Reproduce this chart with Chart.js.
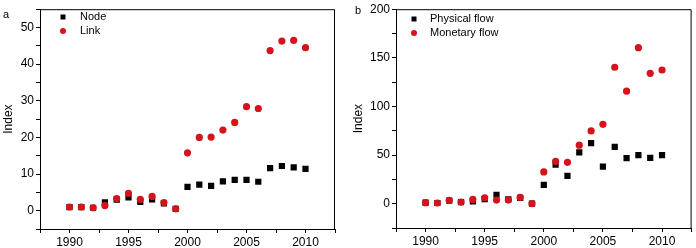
<!DOCTYPE html>
<html>
<head>
<meta charset="utf-8">
<script src="https://cdn.jsdelivr.net/npm/chart.js@4/dist/chart.umd.min.js"></script>
<style>
    html, body { margin: 0; padding: 0; background: #fff; }
    #wrap { display: flex; width: 696px; height: 248px; }
    canvas { display: block; }
</style>
</head>
<body>
<div id="wrap">
    <canvas id="chart-a" width="348" height="248"></canvas>
    <canvas id="chart-b" width="348" height="248"></canvas>
</div>
<script>
// Years shared by both panels
const years = [1990, 1991, 1992, 1993, 1994, 1995, 1996, 1997, 1998, 1999, 2000,
               2001, 2002, 2003, 2004, 2005, 2006, 2007, 2008, 2009, 2010];

// Panel a
const nodeIndex = [1.0, 1.0, 0.8, 2.3, 3.0, 3.6, 2.4, 3.1, 2.0, 0.5, 6.5,
                   7.1, 6.8, 8.0, 8.4, 8.4, 7.9, 11.6, 12.2, 11.8, 11.4];
const linkIndex = [1.0, 1.0, 0.8, 1.4, 3.3, 4.7, 3.1, 3.9, 2.2, 0.5, 15.8,
                   20.0, 20.1, 22.0, 24.1, 28.4, 27.9, 43.7, 46.3, 46.5, 44.5];

// Panel b
const physicalFlow = [1.0, 0.7, 3.2, 1.6, 2.4, 4.8, 9.2, 4.4, 6.0, 0.0, 19.4,
                      40.1, 28.6, 52.7, 62.2, 38.1, 58.5, 46.9, 50.0, 47.0, 50.0];
const monetaryFlow = [1.0, 0.7, 3.4, 1.7, 4.4, 6.1, 3.7, 3.7, 6.4, 0.0, 32.7,
                      43.5, 42.5, 60.2, 74.8, 81.6, 140.3, 115.7, 160.4, 134.1, 137.5];

const FONT = '"Liberation Sans", Arial, sans-serif';
const RED = '#d5131d';

function toPoints(values) {
    return years.map((y, i) => ({ x: y, y: values[i] }));
}

// frame, panel letter and in-plot legend
const decorPlugin = {
    id: 'decor',
    afterDraw(chart, args, opts) {
        const ctx = chart.ctx;
        const a = chart.chartArea;
        ctx.save();
        ctx.strokeStyle = '#000';
        ctx.lineWidth = 1;
        ctx.beginPath();
        ctx.moveTo(a.left, a.top + 0.5);
        ctx.lineTo(a.right - 0.5, a.top + 0.5);
        ctx.lineTo(a.right - 0.5, a.bottom);
        ctx.stroke();

        ctx.fillStyle = '#000';
        ctx.font = '11px ' + FONT;
        ctx.textBaseline = 'middle';
        ctx.textAlign = 'left';
        ctx.fillText(opts.letter, opts.letterX, opts.letterY);

        chart.data.datasets.forEach((ds, i) => {
            const y = opts.legendY + i * opts.legendGap;
            ctx.fillStyle = ds.backgroundColor;
            if (ds.pointStyle === 'rect') {
                ctx.fillRect(opts.legendX - 2.5, y - 2.5, 5, 5);
            } else {
                ctx.beginPath();
                ctx.arc(opts.legendX, y, 3, 0, Math.PI * 2);
                ctx.fill();
            }
            ctx.fillStyle = '#000';
            ctx.fillText(ds.label, opts.textX, y);
        });
        ctx.restore();
    }
};

function makeChart(id, cfg) {
    const ctx = document.getElementById(id).getContext('2d');
    return new Chart(ctx, {
        type: 'scatter',
        data: {
            datasets: [
                {
                    label: cfg.labels[0],
                    data: toPoints(cfg.black),
                    pointStyle: 'rect',
                    pointRadius: 4.4,
                    pointHoverRadius: 4.4,
                    backgroundColor: '#000',
                    borderColor: '#000',
                    borderWidth: 0,
                    order: 1
                },
                {
                    label: cfg.labels[1],
                    data: toPoints(cfg.red),
                    pointStyle: 'circle',
                    pointRadius: 3.6,
                    pointHoverRadius: 3.6,
                    backgroundColor: RED,
                    borderColor: RED,
                    borderWidth: 0,
                    order: 0
                }
            ]
        },
        options: {
            responsive: false,
            animation: false,
            layout: { padding: cfg.padding },
            plugins: {
                legend: { display: false },
                tooltip: { enabled: false },
                decor: cfg.decor
            },
            scales: {
                x: {
                    type: 'linear',
                    min: 1987.5,
                    max: 2012.5,
                    afterFit: s => { s.height = cfg.xHeight; },
                    border: { color: '#000', width: 1 },
                    grid: { drawOnChartArea: false, drawTicks: true, tickLength: 4, tickColor: '#000' },
                    ticks: {
                        stepSize: 2.5,
                        autoSkip: false,
                        maxRotation: 0,
                        padding: 2,
                        color: '#000',
                        font: { family: FONT, size: 12 },
                        callback: v => (v % 5 === 0 ? String(v) : '')
                    }
                },
                y: {
                    min: cfg.yMin,
                    max: cfg.yMax,
                    afterFit: s => { s.width = cfg.yWidth; },
                    border: { color: '#000', width: 1 },
                    grid: { drawOnChartArea: false, drawTicks: true, tickLength: 4, tickColor: '#000' },
                    title: {
                        display: true,
                        text: 'Index',
                        color: '#000',
                        padding: { top: cfg.titlePad, bottom: 0 },
                        font: { family: FONT, size: 12 }
                    },
                    ticks: {
                        stepSize: cfg.yStep,
                        autoSkip: false,
                        padding: 2,
                        color: '#000',
                        font: { family: FONT, size: 12 },
                        callback: v => (v % cfg.yLabelEvery === 0 ? String(v) : '')
                    }
                }
            }
        },
        plugins: [decorPlugin]
    });
}

makeChart('chart-a', {
    labels: ['Node', 'Link'],
    black: nodeIndex,
    red: linkIndex,
    yMin: -5, yMax: 55, yStep: 5, yLabelEvery: 10,
    yWidth: 40, xHeight: 19, titlePad: 1,
    padding: { top: 7, right: 13, left: 0, bottom: 0 },
    decor: { letter: 'a', letterX: 3, letterY: 15, legendX: 63, legendY: 17, legendGap: 14, textX: 80 }
});

makeChart('chart-b', {
    labels: ['Physical flow', 'Monetary flow'],
    black: physicalFlow,
    red: monetaryFlow,
    yMin: -25, yMax: 200, yStep: 25, yLabelEvery: 50,
    yWidth: 48, xHeight: 20, titlePad: 3,
    padding: { top: 8, right: 4, left: 0, bottom: 0 },
    decor: { letter: 'b', letterX: 7, letterY: 11, legendX: 66, legendY: 19, legendGap: 14, textX: 82 }
});
</script>
</body>
</html>
